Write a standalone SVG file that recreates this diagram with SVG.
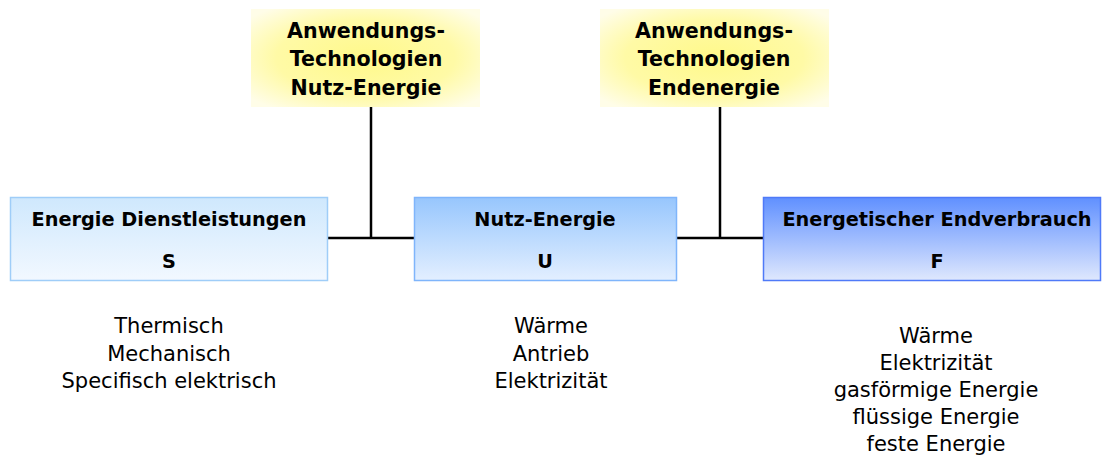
<svg xmlns="http://www.w3.org/2000/svg" width="1105" height="459" viewBox="0 0 1105 459">
<style>
.t{font-family:"DejaVu Sans","Liberation Sans",sans-serif;font-weight:bold;font-size:19.3px;fill:#000;text-anchor:middle}
.y{font-family:"DejaVu Sans","Liberation Sans",sans-serif;font-weight:bold;font-size:20.6px;fill:#000;text-anchor:middle}
.b{font-family:"DejaVu Sans","Liberation Sans",sans-serif;font-size:21px;fill:#000;text-anchor:middle}
.c{stroke:#000;stroke-width:2.5;fill:none}
</style>
<defs>
<linearGradient id="gS" x1="0" y1="0" x2="0" y2="1"><stop offset="0" stop-color="#cfe8fd"/><stop offset="1" stop-color="#f2f8ff"/></linearGradient>
<linearGradient id="gU" x1="0" y1="0" x2="0" y2="1"><stop offset="0" stop-color="#97c6fd"/><stop offset="1" stop-color="#e3efff"/></linearGradient>
<linearGradient id="gF" x1="0" y1="0" x2="0" y2="1"><stop offset="0" stop-color="#6090ff"/><stop offset="1" stop-color="#dfe8fd"/></linearGradient>
<radialGradient id="gY" cx="0.5" cy="0.5" r="0.65"><stop offset="0" stop-color="#fff98a"/><stop offset="0.6" stop-color="#fffaa6"/><stop offset="1" stop-color="#fffde8"/></radialGradient>
</defs>
<g id="connectors">
<line class="c" x1="328" y1="238" x2="414" y2="238"/>
<line class="c" x1="371" y1="107" x2="371" y2="238"/>
<line class="c" x1="677" y1="238" x2="763" y2="238"/>
<line class="c" x1="720" y1="107" x2="720" y2="238"/>
</g>
<g id="tech1">
<rect x="251" y="9" width="229" height="98" fill="url(#gY)"/>
<text class="y" x="366" y="38">Anwendungs-</text>
<text class="y" x="366" y="66">Technologien</text>
<text class="y" x="366" y="95">Nutz-Energie</text>
</g>
<g id="tech2">
<rect x="600" y="9" width="229" height="98" fill="url(#gY)"/>
<text class="y" x="714" y="38">Anwendungs-</text>
<text class="y" x="714" y="66">Technologien</text>
<text class="y" x="714" y="95">Endenergie</text>
</g>
<g id="nodeS">
<rect x="10.5" y="197.5" width="317" height="83" fill="url(#gS)" stroke="#9fcdf8" stroke-width="1.5"/>
<text class="t" x="169" y="226">Energie Dienstleistungen</text>
<text class="t" x="169" y="268">S</text>
</g>
<g id="nodeU">
<rect x="414.5" y="197.5" width="262" height="83" fill="url(#gU)" stroke="#7fb5fb" stroke-width="1.5"/>
<text class="t" x="545" y="226">Nutz-Energie</text>
<text class="t" x="545" y="268">U</text>
</g>
<g id="nodeF">
<rect x="763.5" y="197.5" width="337" height="83" fill="url(#gF)" stroke="#4f7af8" stroke-width="1.5"/>
<text class="t" x="937" y="226">Energetischer Endverbrauch</text>
<text class="t" x="937" y="268">F</text>
</g>
<g id="labelsS">
<text class="b" x="169" y="333">Thermisch</text>
<text class="b" x="169" y="361">Mechanisch</text>
<text class="b" x="169" y="388">Specifisch elektrisch</text>
</g>
<g id="labelsU">
<text class="b" x="551" y="333">Wärme</text>
<text class="b" x="551" y="361">Antrieb</text>
<text class="b" x="551" y="388">Elektrizität</text>
</g>
<g id="labelsF">
<text class="b" x="936" y="343">Wärme</text>
<text class="b" x="936" y="370">Elektrizität</text>
<text class="b" x="936" y="397">gasförmige Energie</text>
<text class="b" x="936" y="424">flüssige Energie</text>
<text class="b" x="936" y="451">feste Energie</text>
</g>
</svg>
